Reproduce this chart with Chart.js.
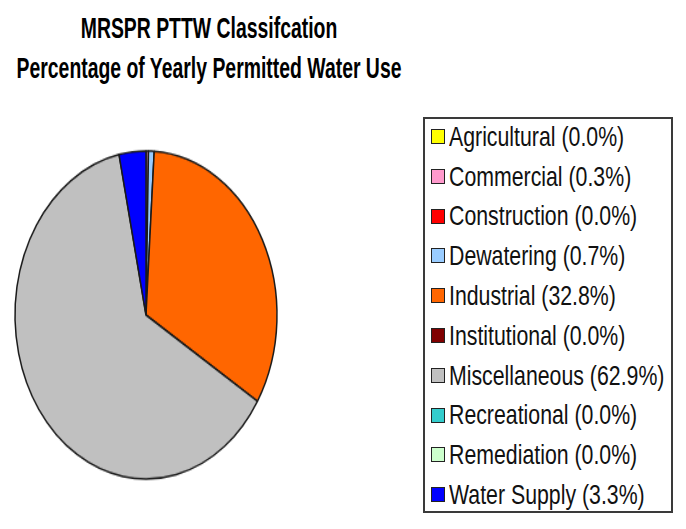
<!DOCTYPE html>
<html><head><meta charset="utf-8">
<script src="https://cdn.jsdelivr.net/npm/chart.js@4"></script>
<style>
html,body{margin:0;padding:0;background:#fff;width:686px;height:529px;overflow:hidden;}
#wrap{position:relative;width:686px;height:529px;}
.t{position:absolute;left:0;width:418px;text-align:center;font:bold 20px "Liberation Sans",Arial,sans-serif;line-height:20px;color:#000;white-space:nowrap;transform-origin:209px 0;transform:scale(0.97,1.47);}
#pie{position:absolute;left:6px;top:175px;transform-origin:140px 140px;transform:scaleY(1.252);}
#legend{position:absolute;left:423px;top:117px;width:250px;height:396px;box-sizing:border-box;border:2px solid #3a3a3a;}
.sw{position:absolute;width:14px;height:15px;box-sizing:border-box;border:1.5px solid #222;}
.lt{position:absolute;font:21.3px "Liberation Sans",Arial,sans-serif;line-height:21px;color:#111;white-space:nowrap;transform-origin:0 0;transform:scaleY(1.28);}
</style>
</head><body>
<div id="wrap">
  <div class="t" id="t1" style="top:13px"></div>
  <div class="t" id="t2" style="top:53px"></div>
  <canvas id="pie" width="280" height="280"></canvas>
  <div id="legend"></div>
</div>
<script>
const titleLines = ['MRSPR PTTW Classifcation', 'Percentage of Yearly Permitted Water Use'];
const categories = ['Agricultural','Commercial','Construction','Dewatering','Industrial','Institutional','Miscellaneous','Recreational','Remediation','Water Supply'];
const percentages = [0.0, 0.3, 0.0, 0.7, 32.8, 0.0, 62.9, 0.0, 0.0, 3.3];
const colors = ['#FFFF00','#FF99CC','#FF0000','#99CCFF','#FF6600','#800000','#C0C0C0','#33CCCC','#CCFFCC','#0000FF'];

document.getElementById('t1').textContent = titleLines[0];
document.getElementById('t2').textContent = titleLines[1];

const chart = new Chart(document.getElementById('pie'), {
  type: 'pie',
  data: {
    labels: categories,
    datasets: [{
      data: percentages,
      backgroundColor: colors,
      borderColor: '#1a1a1a',
      borderWidth: 1.5,
      radius: 131
    }]
  },
  options: {
    responsive: false,
    animation: false,
    layout: { padding: 0 },
    plugins: { legend: { display: false }, tooltip: { enabled: false } }
  }
});

// HTML legend built from the chart's own label generator
const legend = document.getElementById('legend');
const items = chart.options.plugins.legend.labels.generateLabels(chart);
items.forEach((it, i) => {
  const baseline = 146.7 + 39.8 * i;
  const sw = document.createElement('div');
  sw.className = 'sw';
  sw.style.left = '6px';
  sw.style.top = (baseline - 17.7 - 119) + 'px';
  sw.style.background = it.fillStyle;
  legend.appendChild(sw);
  const tx = document.createElement('div');
  tx.className = 'lt';
  tx.style.left = '24px';
  tx.style.top = (baseline - 22.9 - 119) + 'px';
  tx.textContent = it.text + ' (' + percentages[i].toFixed(1) + '%)';
  legend.appendChild(tx);
});
</script>
</body></html>
